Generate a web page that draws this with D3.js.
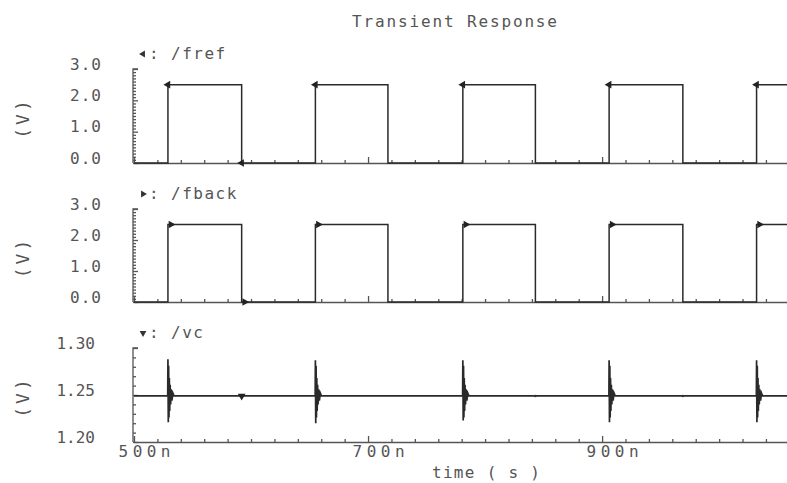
<!DOCTYPE html>
<html>
<head>
<meta charset="utf-8">
<script src="https://cdn.jsdelivr.net/npm/d3@7"></script>
<style>
  body { margin: 0; background: #fff; }
  text { font-family: "DejaVu Sans Mono", monospace; fill: #555; }
</style>
</head>
<body>
<div id="chart"></div>
<script>
// time axis (ns)
const timeDomain = [500, 1058];
const timeMajor = [500, 700, 900];

// square waves: edge times (ns) and levels (V)
const frefRise = [529, 655, 781, 906, 1032];
const frefFall = [592, 717, 843, 969];
const fbackRise = [529, 655, 781, 906, 1032];
const fbackFall = [592, 717, 843, 969];
const clkLow = 0.0;
const clkHigh = 2.5;

// trace markers
const frefMarkT = [529, 592, 655, 781, 906, 1032];
const fbackMarkT = [529, 592, 655, 781, 906, 1032];
const vcMarkT = [592];
const vcDotT = [843, 969];

// control voltage: settled level, ringing at each rising edge
const vcLevel = 1.249;
const vcEdges = [529, 655, 781, 906, 1032];
const vcHi = [1.288, 1.287, 1.287, 1.287, 1.287];
const vcLo = [1.221, 1.220, 1.223, 1.221, 1.221];
const ringDt = [0.6, 0.9, 1.2, 1.5, 1.9, 2.3, 2.8, 3.4, 4.2, 5.2];
const ringV = [1.281, 1.226, 1.268, 1.233, 1.261, 1.240, 1.256, 1.244, 1.252, 1.249];

const clkTicks = [0, 1, 2, 3];
const vcTicks = [1.20, 1.25, 1.30];

const W = 787, H = 483;
const svg = d3.select("#chart").append("svg")
  .attr("width", W).attr("height", H);

const x = d3.scaleLinear().domain(timeDomain).range([134, 787]);

function squarePts(rise, fall) {
  const edges = rise.map(t => ({t, up: true}))
    .concat(fall.map(t => ({t, up: false})))
    .sort((a, b) => a.t - b.t);
  let v = clkLow;
  const pts = [[timeDomain[0], v]];
  edges.forEach(e => {
    pts.push([e.t, v]);
    v = e.up ? clkHigh : clkLow;
    pts.push([e.t, v]);
  });
  pts.push([timeDomain[1], v]);
  return pts;
}

function vcPts() {
  const pts = [[timeDomain[0], vcLevel]];
  vcEdges.forEach((t, i) => {
    pts.push([t - 0.2, vcLevel]);
    pts.push([t, vcHi[i]]);
    pts.push([t + 0.3, vcLo[i]]);
    ringDt.forEach((dt, j) => pts.push([t + dt, ringV[j]]));
  });
  pts.push([timeDomain[1], vcLevel]);
  return pts;
}

const panels = [
  {name: "/fref", top: 69, bottom: 163, domain: [0, 3], ticks: clkTicks, minor: 0.1,
   fmt: d3.format(".1f"), pad: 31, pts: squarePts(frefRise, frefFall),
   marks: frefMarkT.map(t => [t, frefFall.includes(t) ? clkLow : clkHigh]), rot: -90, dots: []},
  {name: "/fback", top: 209, bottom: 302, domain: [0, 3], ticks: clkTicks, minor: 0.1,
   fmt: d3.format(".1f"), pad: 31, pts: squarePts(fbackRise, fbackFall),
   marks: fbackMarkT.map(t => [t, fbackFall.includes(t) ? clkLow : clkHigh]), rot: 90, dots: []},
  {name: "/vc", top: 348, bottom: 442, domain: [1.20, 1.30], ticks: vcTicks, minor: 0.01,
   fmt: d3.format(".2f"), pad: 38, pts: vcPts(),
   marks: vcMarkT.map(t => [t, vcLevel]), rot: 180, dots: vcDotT.map(t => [t, vcLevel])}
];

svg.append("text")
  .attr("x", 352).attr("y", 27)
  .attr("textLength", 205).attr("lengthAdjust", "spacing")
  .style("font-size", "16px")
  .text("Transient Response");

svg.append("defs").append("clipPath").attr("id", "plotclip")
  .append("rect").attr("x", 134).attr("y", 0).attr("width", W - 134).attr("height", H);

const sym = d3.symbol().type(d3.symbolTriangle).size(26);
const majorX = new Set(timeMajor);

panels.forEach((p, pi) => {
  const y = d3.scaleLinear().domain(p.domain).range([p.bottom, p.top]);
  const g = svg.append("g");

  // tick labels on the left
  const lab = g.append("g")
    .attr("transform", `translate(133,-5)`)
    .call(d3.axisLeft(y).tickValues(p.ticks).tickFormat(p.fmt).tickSize(0).tickPadding(p.pad));
  lab.select(".domain").remove();
  lab.selectAll("text")
    .style("font-size", "16px").style("letter-spacing", pi === 2 ? "0px" : "1px")
    .attr("fill", "#555");

  // y axis line with minor ticks pointing inwards
  const ny = Math.round((p.domain[1] - p.domain[0]) / p.minor);
  const yMinor = d3.range(ny + 1).map(i => +(p.domain[0] + i * p.minor).toFixed(3));
  const ya = g.append("g")
    .attr("transform", "translate(133,0)")
    .call(d3.axisRight(y).tickValues(yMinor).tickSizeOuter(0).tickFormat(""));
  ya.selectAll(".tick line")
    .attr("x2", d => p.ticks.some(v => Math.abs(v - d) < 1e-6) ? 5 : 3);
  ya.select(".domain").attr("d", `M5,${p.top}H0V${p.bottom}`);
  ya.selectAll("line, path").attr("stroke", "#555").attr("stroke-width", 1.3);

  // x axis with minor ticks pointing up
  const xMinor = d3.range(timeDomain[0], timeDomain[1], 20);
  const xa = g.append("g")
    .attr("transform", `translate(0,${p.bottom})`)
    .call(d3.axisTop(x).tickValues(xMinor).tickSizeOuter(0).tickFormat(""));
  xa.selectAll(".tick line").attr("y2", d => majorX.has(d) ? -6 : -3);
  xa.selectAll("line, path").attr("stroke", "#555").attr("stroke-width", 1.3);

  if (pi === 2) {
    const xl = g.append("g")
      .attr("transform", `translate(10,${p.bottom})`)
      .call(d3.axisBottom(x).tickValues(timeMajor).tickFormat(d => d + "n").tickSize(0).tickPadding(4));
    xl.select(".domain").remove();
    xl.selectAll("text")
      .style("font-size", "16px")
      .attr("textLength", 52).attr("lengthAdjust", "spacing")
      .attr("fill", "#555");
  }

  // trace
  const line = d3.line().x(d => x(d[0])).y(d => y(d[1]));
  g.append("path")
    .datum(p.pts)
    .attr("clip-path", "url(#plotclip)")
    .attr("d", line)
    .attr("fill", "none")
    .attr("stroke", "#2a2a2a")
    .attr("stroke-width", pi === 2 ? 1.7 : 1.5);

  // markers
  g.selectAll(".mk").data(p.marks).join("path")
    .attr("d", sym)
    .attr("transform", d => `translate(${x(d[0]) + (pi === 1 ? 3 : 0)},${y(d[1])}) rotate(${p.rot})`)
    .attr("fill", "#222");
  g.selectAll(".dt").data(p.dots).join("circle")
    .attr("cx", d => x(d[0])).attr("cy", d => y(d[1])).attr("r", 1.3)
    .attr("fill", "#333");

  // legend
  const ly = p.top - 10;
  g.append("path")
    .attr("d", sym.size(20)())
    .attr("transform", `translate(143,${ly - 5}) rotate(${p.rot})`)
    .attr("fill", "#333");
  g.append("text").attr("x", 149).attr("y", ly).style("font-size", "16px").text(":");
  g.append("text").attr("x", 171).attr("y", ly)
    .style("font-size", "16px").style("letter-spacing", "1.5px")
    .text(p.name);
  sym.size(26);

  // unit label
  svg.append("text")
    .attr("transform", `translate(29,${(p.top + p.bottom) / 2 + 2}) rotate(-90)`)
    .attr("text-anchor", "middle")
    .style("font-size", "18px").style("letter-spacing", "3px")
    .text("(V)");
});

svg.append("text")
  .attr("x", 432).attr("y", 478)
  .attr("textLength", 108).attr("lengthAdjust", "spacing")
  .style("font-size", "16px")
  .text("time ( s )");
</script>
</body>
</html>
